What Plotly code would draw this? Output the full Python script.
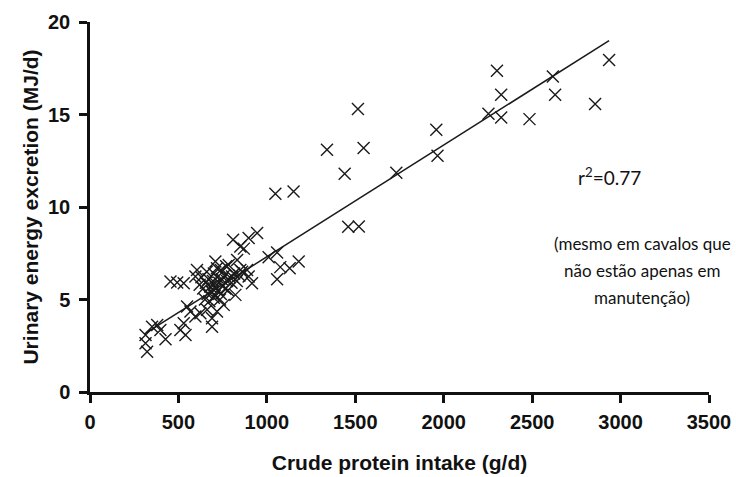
import plotly.graph_objects as go

# Crude protein intake (g/d)
cp_intake = [
    314, 323, 314, 351, 380, 398, 427, 511, 540, 530,
    568, 596, 549, 624, 662, 690, 690, 718, 756, 822,
    455, 493, 530, 596, 605, 709, 718, 784, 832, 850, 803, 888, 897, 916,
    809, 850, 897, 945, 870,
    640, 655, 665, 670, 680, 690, 695, 700, 705, 710, 720, 725, 730, 740, 745, 750,
    760, 765, 775, 780, 790, 800, 815, 830, 845, 860, 650, 675, 700, 735, 620, 630,
    660, 700, 740, 770,
    1010, 1058, 1076, 1129, 1180, 1058,
    1048, 1151, 1460, 1520, 1340, 1547, 1440, 1515, 1732, 1958, 1965, 2253, 2301,
    2325, 2325, 2485, 2617, 2630, 2856, 2935,
]
# Urinary energy excretion (MJ/d)
ue_excretion = [
    3.08, 2.18, 2.63, 3.53, 3.62, 3.35, 2.85, 3.35, 3.08, 3.72,
    4.35, 4.08, 4.62, 4.26, 4.44, 3.53, 3.99, 4.35, 4.71, 5.25,
    5.97, 5.92, 5.88, 6.24, 6.60, 7.05, 6.69, 6.87, 7.14, 6.60, 6.24, 6.60, 6.24, 5.88,
    8.23, 7.86, 8.32, 8.59, 7.75,
    5.6, 5.9, 5.3, 6.1, 5.7, 5.4, 6.0, 5.8, 5.2, 5.6, 6.2, 5.5, 5.9, 5.3, 6.1, 5.7,
    6.3, 5.6, 6.0, 5.5, 6.2, 5.9, 6.4, 6.0, 6.3, 6.5, 5.0, 4.9, 5.1, 5.0, 5.8, 6.2,
    6.5, 6.4, 6.6, 6.8,
    7.29, 7.54, 6.75, 6.69, 7.05, 6.10,
    10.71, 10.84, 8.93, 8.95, 13.10, 13.19, 11.80, 15.30, 11.85, 14.18, 12.77, 15.04, 17.37,
    16.07, 14.84, 14.75, 17.06, 16.07, 15.57, 17.95,
]

# Regression line
fit_intercept = 1.275
fit_slope = 0.006036
fit_x = [306, 2935]
fit_y = [fit_intercept + fit_slope * v for v in fit_x]

x_ticks = [0, 500, 1000, 1500, 2000, 2500, 3000, 3500]
y_ticks = [0, 5, 10, 15, 20]

r2_text = "r<sup>2</sup>=0.77"
note_lines = ["(mesmo em cavalos que", "não estão apenas em", "manutenção)"]
note_y = [8.01, 6.55, 5.09]

fig = go.Figure()
fig.add_trace(go.Scatter(
    x=fit_x, y=fit_y, mode="lines",
    line=dict(color="#1a1a1a", width=1.5), showlegend=False, hoverinfo="skip",
))
fig.add_trace(go.Scatter(
    x=cp_intake, y=ue_excretion, mode="markers",
    marker=dict(symbol="x-thin-open", size=12, color="#1a1a1a",
                line=dict(color="#1a1a1a", width=1.4)),
    showlegend=False,
))

fam = "Liberation Sans, Arial, sans-serif"
title_font = dict(family=fam, size=21, color="#111")
tick_font = dict(family=fam, size=20, color="#111", weight="bold")
fig.update_xaxes(
    range=[0, 3500], tickvals=x_ticks, ticktext=[str(v) for v in x_ticks],
    showline=True, linecolor="#111", linewidth=2.5,
    ticks="outside", ticklen=8, tickwidth=2.5, tickcolor="#111",
    showgrid=False, zeroline=False, tickfont=tick_font, ticklabelstandoff=2,
    automargin=False,
    title=dict(text="<b>Crude protein intake (g/d)</b>", font=title_font, standoff=24),
)
fig.update_yaxes(
    range=[0, 20], tickvals=y_ticks, ticktext=[str(v) for v in y_ticks],
    showline=True, linecolor="#111", linewidth=2.5,
    ticks="outside", ticklen=8, tickwidth=2.5, tickcolor="#111",
    showgrid=False, zeroline=False, tickfont=tick_font, ticklabelstandoff=5,
    automargin=False,
    title=dict(text="<b>Urinary energy excretion (MJ/d)</b>", font=title_font, standoff=4),
)

r2_font = dict(family="Lato, Open Sans, sans-serif", size=19, color="#111")
note_font = dict(family="Lato, Open Sans, sans-serif", size=17, color="#111")
fig.add_annotation(
    x=2935, y=11.63, xref="x", yref="y", text=r2_text,
    showarrow=False, font=r2_font, xanchor="center", yanchor="middle",
)
for line, yy in zip(note_lines, note_y):
    fig.add_annotation(
        x=3122, y=yy, xref="x", yref="y", text=line,
        showarrow=False, font=note_font, xanchor="center", yanchor="middle",
    )

fig.update_layout(
    width=736, height=477,
    margin=dict(l=90, r=27, t=22, b=85),
    plot_bgcolor="white", paper_bgcolor="white",
)

fig.write_html(
    "out.html",
    config={"displayModeBar": False},
    post_script="document.body.style.margin='0';document.body.style.overflow='hidden';",
)
